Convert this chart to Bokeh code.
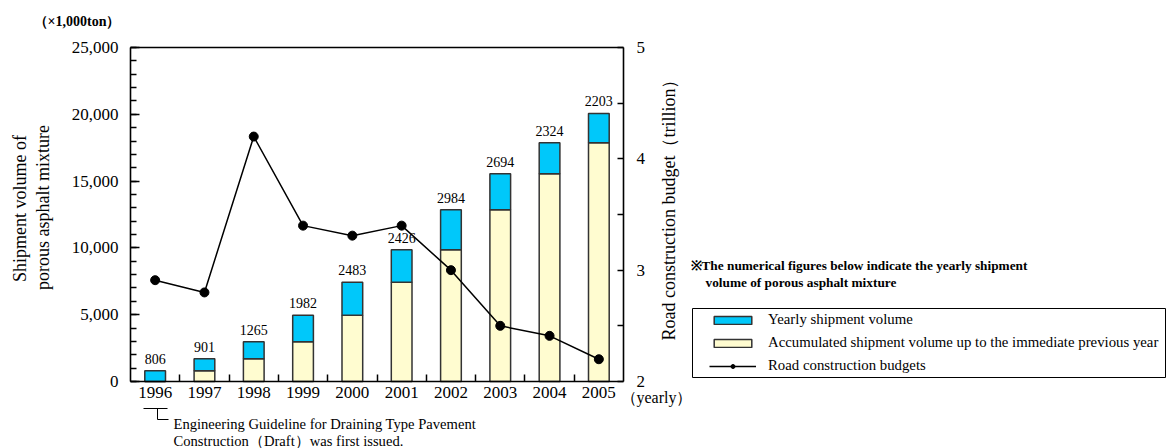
from math import pi
from itertools import accumulate

from bokeh.plotting import figure
from bokeh.models import (Range1d, LinearAxis, FixedTicker, NumeralTickFormatter,
                          ColumnDataSource, LabelSet, Label, Legend, LegendItem, Arrow)
from bokeh.core.properties import value
from bokeh.embed import file_html
from bokeh.resources import INLINE

# ---- data -------------------------------------------------------------
years = ["1996", "1997", "1998", "1999", "2000", "2001", "2002", "2003", "2004", "2005"]
yearly = [806, 901, 1265, 1982, 2483, 2426, 2984, 2694, 2324, 2203]        # x1,000 ton
budget = [2.91, 2.80, 4.20, 3.40, 3.31, 3.40, 3.00, 2.50, 2.41, 2.20]       # trillion
volume_ticks = [0, 5000, 10000, 15000, 20000, 25000]
budget_ticks = [2, 3, 4, 5]

# accumulated shipment up to the previous year
accumulated = list(accumulate([0] + yearly[:-1]))
totals = [a + y for a, y in zip(accumulated, yearly)]
xpos = [i + 0.5 for i in range(len(years))]

# ---- layout (page pixels) ---------------------------------------------
# The plot frame covers the whole page; the chart box sits at FL..FR / FT..FB
# and the axes are pinned to its edges with fixed_location.
W, H = 1167, 448
FL, FR, FT, FB = 130, 623, 47, 381
N = len(years)
VMAX = volume_ticks[-1]
BMIN, BMAX = budget_ticks[0], budget_ticks[-1]
FONT = "Liberation Serif"
CYAN = "#00C8FA"
YELLOW = "#FFFCD0"
EDGE = "#333333"


def span(lo, hi, p_lo, p_hi, p_min, p_max):
    """Range whose [lo, hi] lands on pixels [p_lo, p_hi] of a frame [p_min, p_max]."""
    k = (hi - lo) / (p_hi - p_lo)
    return Range1d(lo - (p_lo - p_min) * k, hi + (p_max - p_hi) * k)


p = figure(width=W, height=H, output_backend="svg", toolbar_location=None,
           x_range=span(0, N, FL, FR, 0, W),
           y_range=span(0, VMAX, H - FB, H - FT, 0, H),
           x_axis_type=None, y_axis_type=None,
           min_border=0, min_border_left=0, min_border_right=0,
           min_border_top=0, min_border_bottom=0)
p.extra_y_ranges = {"budget": span(BMIN, BMAX, H - FB, H - FT, 0, H),
                    "page_y": Range1d(H, 0)}
p.extra_x_ranges = {"page_x": Range1d(0, W)}
p.outline_line_color = None
p.background_fill_color = "white"
p.border_fill_color = "white"


def style_axis(ax, size="17px"):
    ax.axis_line_color = "black"
    ax.axis_line_width = 1.6
    ax.major_tick_line_color = "black"
    ax.minor_tick_line_color = "black"
    ax.major_tick_line_width = 1.5
    ax.minor_tick_line_width = 1.5
    ax.major_tick_out = 0
    ax.minor_tick_out = 0
    ax.major_label_text_font = FONT
    ax.major_label_text_font_size = size
    ax.major_label_text_color = "black"


# bottom axis: year labels at the centres, small ticks between years
xax = LinearAxis(fixed_location=0, bounds=(0, N),
                 ticker=FixedTicker(ticks=xpos, minor_ticks=list(range(1, N))),
                 major_label_overrides={x: y for x, y in zip(xpos, years)})
style_axis(xax)
xax.major_tick_in = 0
xax.minor_tick_in = 7
xax.major_label_standoff = 5
p.add_layout(xax, "below")

# top edge of the chart box
tax = LinearAxis(fixed_location=VMAX, bounds=(0, N), ticker=FixedTicker(ticks=[]))
style_axis(tax)
tax.major_tick_in = 0
tax.minor_tick_in = 0
p.add_layout(tax, "above")

# left axis: shipment volume
yax = LinearAxis(fixed_location=0, bounds=(0, VMAX),
                 ticker=FixedTicker(ticks=volume_ticks, minor_ticks=list(range(0, VMAX + 1, 1000))),
                 formatter=NumeralTickFormatter(format="0,0"))
style_axis(yax)
yax.major_tick_in = 9
yax.minor_tick_in = 6
yax.major_label_standoff = 12
p.add_layout(yax, "left")

# right axis: road construction budget
rax = LinearAxis(fixed_location=N, y_range_name="budget", bounds=(BMIN, BMAX),
                 ticker=FixedTicker(ticks=budget_ticks, minor_ticks=[2.5, 3.5, 4.5]))
style_axis(rax)
rax.major_tick_in = 6
rax.minor_tick_in = 6
rax.major_label_standoff = 13
p.add_layout(rax, "right")

# ---- bars and line ----------------------------------------------------
src = ColumnDataSource(dict(x=xpos, acc=accumulated, top=totals, budget=budget,
                            label=[str(v) for v in yearly]))

acc_r = p.vbar(x="x", bottom=0, top="acc", width=0.42, source=src,
               fill_color=YELLOW, line_color=EDGE, line_width=1.5)
yr_r = p.vbar(x="x", bottom="acc", top="top", width=0.42, source=src,
              fill_color=CYAN, line_color=EDGE, line_width=1.5)
line_r = p.line(x="x", y="budget", y_range_name="budget", source=src,
                line_color="black", line_width=1.5)
dot_r = p.scatter(x="x", y="budget", y_range_name="budget", source=src,
                  size=9, fill_color="black", line_color="black")

p.add_layout(LabelSet(x="x", y="top", text="label", source=src, y_offset=7,
                      text_align="center", text_baseline="alphabetic",
                      text_font=value(FONT), text_font_size=value("14px"),
                      text_color="black"))


# ---- texts around the chart -------------------------------------------
def page_label(x, y, text, size, align="left", angle=0.0, style="normal"):
    p.add_layout(Label(x=x, y=y, x_range_name="page_x", y_range_name="page_y",
                       text=text, text_font=FONT, text_font_size=size,
                       text_font_style=style, text_color="black",
                       text_align=align, text_baseline="middle", angle=angle))


def page_segments(x0, y0, x1, y1):
    seg = ColumnDataSource(dict(x0=x0, y0=y0, x1=x1, y1=y1))
    p.add_layout(Arrow(end=None, source=seg, x_start="x0", y_start="y0",
                       x_end="x1", y_end="y1", x_range_name="page_x", y_range_name="page_y",
                       line_color="black", line_width=1))


page_label(33, 21, "（×1,000ton）", "14px", style="bold")
page_label(19, 208, "Shipment volume of", "18px", align="center", angle=pi / 2)
page_label(42, 207, "porous asphalt mixture", "18px", align="center", angle=pi / 2)
page_label(668, 205, "Road construction budget（trillion）", "18px", align="center", angle=pi / 2)
page_label(620, 397, "（yearly）", "16px")
page_label(173, 423, "Engineering Guideline for Draining Type Pavement", "14.6px")
page_label(173, 440, "Construction（Draft）was first issued.", "14.6px")
page_label(690, 265, "※The numerical figures below indicate the yearly shipment", "13.3px", style="bold")
page_label(705, 282, "volume of porous asphalt mixture", "13.3px", style="bold")

# bracket pointing at the 1996 label
page_segments([143, 157, 157], [408, 408, 419], [167, 157, 168], [408, 419, 419])

# ---- legend -----------------------------------------------------------
# box around the legend entries
page_segments([692, 1165, 1165, 692], [308, 308, 377, 377],
              [1165, 1165, 692, 692], [308, 377, 377, 308])

legend = Legend(items=[
    LegendItem(label="Yearly shipment volume", renderers=[yr_r]),
    LegendItem(label="Accumulated shipment volume up to the immediate previous year", renderers=[acc_r]),
    LegendItem(label="Road construction budgets", renderers=[line_r, dot_r]),
], location=(709, H - 374))
legend.border_line_alpha = 0
legend.background_fill_alpha = 0
legend.padding = 0
legend.margin = 0
legend.glyph_width = 47
legend.glyph_height = 10
legend.label_height = 17
legend.spacing = 6
legend.label_standoff = 12
legend.label_text_font = FONT
legend.label_text_font_size = "14.8px"
legend.label_text_color = "black"
p.add_layout(legend)

open("out.html", "w").write(file_html(p, INLINE))
